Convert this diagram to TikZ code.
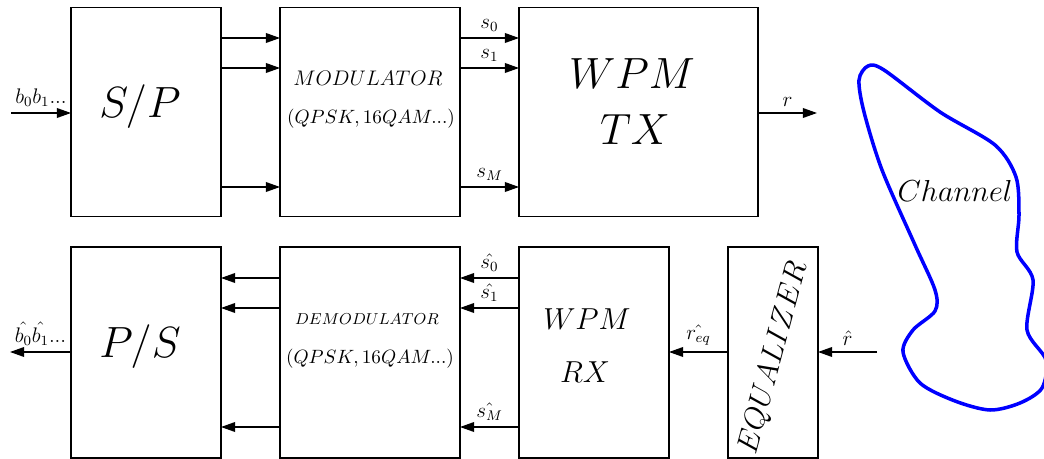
\documentclass[tikz,border=0pt]{standalone}
\usepackage{amsmath, amssymb}
\usepackage{tikz}
\usetikzlibrary{arrows.meta,calc}

\tikzset{
    blk/.style={draw, line width=1.1pt, inner sep=0pt, outer sep=0pt},
    sig/.style={->, line width=0.75pt},
    txt/.style={anchor=base, inner sep=0pt},
    lab/.style={above, font=\fs{12}},
}
\newcommand{\fs}[1]{\fontsize{#1}{#1}\selectfont}

\begin{document}
\begin{tikzpicture}[x=0.02cm, y=-0.02cm, >={Triangle[length=8pt,width=5.5pt]}]
    \useasboundingbox (0,0) rectangle (1044,459);

    % transmitter
    \node[blk, minimum width=3cm, minimum height=4.18cm] (sp) at (146,112) {};
    \node[blk, minimum width=3.6cm, minimum height=4.18cm] (mod) at (370,112) {};
    \node[blk, minimum width=4.78cm, minimum height=4.18cm] (tx) at (638.5,112) {};

    \node[txt] (sptxt) at (140,118) {\fs{25}$S/P$};
    \node[txt] (modtxt) at (368,86) {\fs{13}$MODULATOR$};
    \node[txt] (modtype) at (371,124) {\fs{11}$(QPSK,16QAM...)$};
    \node[txt] (txa) at (632,89) {\fs{28}$WPM$};
    \node[txt] (txb) at (635,145) {\fs{28}$TX$};

    \coordinate (bin) at (11,113);
    \coordinate (rout) at (817,113);
    \draw[sig] (bin) -- node[lab] {$b_0b_1...$} (sp.west |- bin);
    \draw[sig] (sp.east |- 0,38) -- (mod.west |- 0,38);
    \draw[sig] (sp.east |- 0,68) -- (mod.west |- 0,68);
    \draw[sig] (sp.east |- 0,187) -- (mod.west |- 0,187);
    \draw[sig] (mod.east |- 0,38) -- node[lab] {$s_0$} (tx.west |- 0,38);
    \draw[sig] (mod.east |- 0,68) -- node[lab] {$s_1$} (tx.west |- 0,68);
    \draw[sig] (mod.east |- 0,187) -- node[lab] {$s_M$} (tx.west |- 0,187);
    \draw[sig] (tx.east |- rout) -- node[lab] {$r$} (rout);

    % channel
    \draw[blue, line width=2pt] plot[smooth cycle, tension=0.5] coordinates {
        (859,80) (868,66) (884,70) (940,112) (995,145) (1016,177) (1019,215)
        (1017,252) (1033,280) (1027,330) (1046,360) (1042,388) (1020,403)
        (990,410) (955,401) (920,383) (903,352) (913,330) (935,311) (935,290)
        (915,245) (882,170) (864,112)};
    \node[txt] (chan) at (955,202) {\fs{18}$Channel$};

    % receiver
    \node[blk, minimum width=3cm, minimum height=4.22cm] (ps) at (146,352.5) {};
    \node[blk, minimum width=3.6cm, minimum height=4.22cm] (demod) at (370,352.5) {};
    \node[blk, minimum width=3cm, minimum height=4.22cm] (rx) at (594,352.5) {};
    \node[blk, minimum width=1.8cm, minimum height=4.22cm] (eq) at (773,352.5) {};

    \node[txt] (pstxt) at (140,357) {\fs{25}$P/S$};
    \node[txt] (demodtxt) at (367,324) {\fs{9.5}$DEMODULATOR$};
    \node[txt] (demodtype) at (370,363) {\fs{11}$(QPSK,16QAM...)$};
    \node[txt] (rxa) at (587,329) {\fs{19}$WPM$};
    \node[txt] (rxb) at (585,382) {\fs{19}$RX$};
    \node[inner sep=0pt, rotate=75] (eqtxt) at (774,358) {\fs{19}$EQUALIZER$};

    \coordinate (bout) at (10,352);
    \coordinate (rin) at (877,352);
    \draw[sig] (rin) -- node[lab] {$\hat{r}$} (eq.east |- rin);
    \draw[sig] (eq.west |- rin) -- node[lab] {$\hat{r_{eq}}$} (rx.east |- rin);
    \draw[sig] (rx.west |- 0,278) -- node[lab] {$\hat{s_0}$} (demod.east |- 0,278);
    \draw[sig] (rx.west |- 0,308) -- node[lab] {$\hat{s_1}$} (demod.east |- 0,308);
    \draw[sig] (rx.west |- 0,427) -- node[lab] {$\hat{s_M}$} (demod.east |- 0,427);
    \draw[sig] (demod.west |- 0,278) -- (ps.east |- 0,278);
    \draw[sig] (demod.west |- 0,308) -- (ps.east |- 0,308);
    \draw[sig] (demod.west |- 0,427) -- (ps.east |- 0,427);
    \draw[sig] (ps.west |- bout) -- node[lab] {$\hat{b_0}\hat{b_1}...$} (bout);
\end{tikzpicture}
\end{document}
